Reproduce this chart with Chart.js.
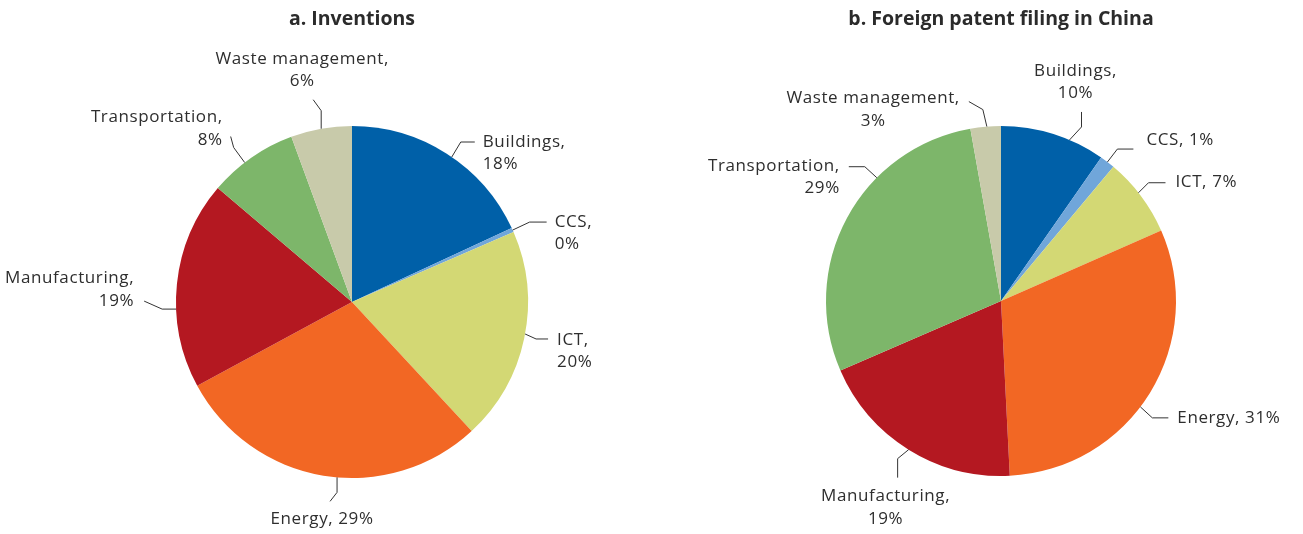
<!DOCTYPE html>
<html>
<head>
<meta charset="utf-8">
<script src="https://cdn.jsdelivr.net/npm/chart.js@4.4.0/dist/chart.umd.min.js"></script>
<style>
  html, body { margin: 0; padding: 0; background: #fff; }
  #wrap { position: relative; width: 1303px; height: 534px; }
  .box { position: absolute; top: 0; height: 534px; }
</style>
</head>
<body>
<div id="wrap">
  <div class="box" style="left:0; width:650px;"><canvas id="chartA"></canvas></div>
  <div class="box" style="left:651px; width:652px;"><canvas id="chartB"></canvas></div>
</div>
<script>
// categories (same order in both panels, clockwise from 12 o'clock)
const sectors = ['Buildings', 'CCS', 'ICT', 'Energy', 'Manufacturing', 'Transportation', 'Waste management'];
const sectorColors = ['#0060a8', '#70a6da', '#d3d874', '#f26724', '#b41821', '#7db66a', '#c8caaa'];

// a. Inventions (share, %)
const inventions = [18.1, 0.4, 19.6, 29, 19.1, 8.2, 5.6];
// b. Foreign patent filing in China (share, %)
const foreignFiling = [9.7, 1.4, 7.3, 30.8, 19.3, 28.7, 2.8];

const titleA = 'a. Inventions';
const titleB = 'b. Foreign patent filing in China';

const FONT = '"Open Sans", "Noto Sans", sans-serif';
const TEXT_COLOR = '#2e2e2e';
const LINE_H = 22.5;

// leader line layout per slice: f = where on the arc, path = relative moves,
// t = text offset from line end, align = block anchor, inner = line alignment
const layoutA = [
  { f: 0.53, path: [[9, -15], [14, 0]], t: [8, 0], align: 'left' },
  { f: 0.5, path: [[17, -8], [17, 0]], t: [8, 0], align: 'left' },
  { f: 0.48, path: [[11, 5], [12, 0]], t: [9, 1], align: 'left' },
  { f: 0.457, path: [[0, 15], [-7, 9]], t: [-8, 18], align: 'center', one: true },
  { f: 0.38, path: [[-14, 0], [-18, -8]], t: [-10, -22.5], align: 'right' },
  { f: 0.41, path: [[-11, -15], [-3, -11]], t: [-8, -19], align: 'right' },
  { f: 0.5, path: [[0, -18], [-8, -11]], t: [-11, -41], align: 'center' }
];
const layoutB = [
  { f: 0.66, path: [[12, -13], [0, -15]], t: [-6, -41], align: 'center' },
  { f: 0.5, path: [[10, -13], [16, 0]], t: [13, -9], align: 'left', one: true },
  { f: 0.45, path: [[10, -10], [17, 0]], t: [10, -1], align: 'left', one: true },
  { f: 0.55, path: [[12, 11], [16, 0]], t: [9, 0], align: 'left', one: true },
  { f: 0.5, path: [[-11, 9], [0, 19]], t: [-12, 19], align: 'center' },
  { f: 0.66, path: [[-12, -11], [-16, 0]], t: [-9, -1], align: 'right' },
  { f: 0.54, path: [[-4, -17], [-14, -8]], t: [-9, -3], align: 'right', inner: 'center' }
];

const leaderLabels = {
  id: 'leaderLabels',
  afterDatasetsDraw(chart, args, opts) {
    const ctx = chart.ctx;
    const meta = chart.getDatasetMeta(0);
    const values = chart.data.datasets[0].data;
    const total = values.reduce((a, b) => a + b, 0);
    ctx.save();
    ctx.font = '17px ' + FONT;
    ctx.letterSpacing = '0.6px';
    ctx.fillStyle = TEXT_COLOR;
    ctx.strokeStyle = '#333';
    ctx.lineWidth = 1;
    ctx.textBaseline = 'middle';
    meta.data.forEach((arc, i) => {
      const lay = opts.layout[i];
      const p = arc.getProps(['x', 'y', 'startAngle', 'endAngle', 'outerRadius'], true);
      const a = p.startAngle + lay.f * (p.endAngle - p.startAngle);
      let x = p.x + Math.cos(a) * p.outerRadius;
      let y = p.y + Math.sin(a) * p.outerRadius;
      ctx.beginPath();
      ctx.moveTo(x, y);
      lay.path.forEach(([dx, dy]) => { x += dx; y += dy; ctx.lineTo(x, y); });
      ctx.stroke();

      const pct = Math.round(values[i] / total * 100) + '%';
      const name = chart.data.labels[i] + ',';
      const lines = lay.one ? [name + ' ' + pct] : [name, pct];
      const tx = x + lay.t[0];
      const ty = y + lay.t[1];
      const widths = lines.map(s => ctx.measureText(s).width);
      const maxW = Math.max(...widths);
      const inner = lay.inner || lay.align;
      let blockLeft;
      if (lay.align === 'left') blockLeft = tx;
      else if (lay.align === 'right') blockLeft = tx - maxW;
      else blockLeft = tx - maxW / 2;
      lines.forEach((s, k) => {
        let lx;
        if (inner === 'left') lx = blockLeft;
        else if (inner === 'right') lx = blockLeft + maxW - widths[k];
        else lx = blockLeft + (maxW - widths[k]) / 2;
        ctx.textAlign = 'left';
        ctx.fillText(s, lx, ty + k * LINE_H);
      });
    });
    ctx.restore();
  }
};

function makePie(id, title, values, layout, pad) {
  return new Chart(document.getElementById(id), {
    type: 'pie',
    data: {
      labels: sectors,
      datasets: [{
        data: values,
        backgroundColor: sectorColors,
        borderWidth: 0,
        hoverOffset: 0
      }]
    },
    options: {
      responsive: true,
      maintainAspectRatio: false,
      animation: false,
      events: [],
      layout: { padding: pad },
      plugins: {
        legend: { display: false },
        tooltip: { enabled: false },
        title: {
          display: true,
          text: title,
          color: '#2b2b2b',
          font: { family: FONT, size: 19.5, weight: 'bold' },
          padding: { top: 8, bottom: 94.6 }
        },
        leaderLabels: { layout: layout }
      }
    },
    plugins: [leaderLabels]
  });
}

makePie('chartA', titleA, inventions, layoutA, { left: 176, right: 122, top: 0, bottom: 56 });
makePie('chartB', titleB, foreignFiling, layoutB, { left: 175, right: 127, top: 0, bottom: 58 });
</script>
</body>
</html>
